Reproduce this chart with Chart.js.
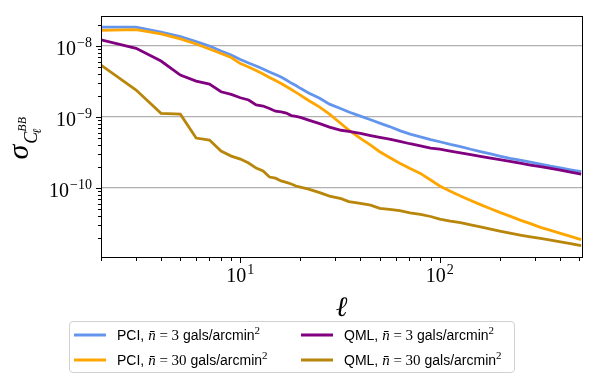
<!DOCTYPE html>
<html lang="en">
<head>
<meta charset="UTF-8" />
<title>sigma C_l^BB vs ell</title>
<script src="https://cdn.jsdelivr.net/npm/chart.js@4.4.1/dist/chart.umd.min.js"></script>
<style>
  html, body { margin: 0; padding: 0; background: #fff; }
  #wrap { position: relative; width: 598px; height: 381px; }
  #legend {
    position: absolute; left: 69px; top: 321px; width: 446px; height: 52px;
    box-sizing: border-box; border: 1px solid #d0d0d0; border-radius: 4px;
    font-family: 'Liberation Sans', sans-serif; font-size: 14px; color: #000;
  }
  .item { position: absolute; display: flex; align-items: center; white-space: nowrap; transform: translateY(-50%); }
  .swatch { width: 32px; height: 3px; margin-right: 11px; flex: none; }
  .m { font-family: 'Liberation Serif', serif; font-size: 15px; }
  .m i { font-style: italic; }
  sup { font-family: 'Liberation Serif', serif; font-size: 11px; line-height: 0; vertical-align: 6px; }
</style>
</head>
<body>
<div id="wrap">
  <canvas id="chart" width="598" height="381"></canvas>
  <div id="legend"></div>
</div>
<script>
// multipoles (shared by all curves)
const ells = [2, 3, 4, 5, 6, 7, 8, 9, 10, 11, 12, 13, 14, 15, 16, 17, 18, 19, 20,
  22, 25, 28, 32, 35, 40, 45, 50, 56, 63, 71, 80, 90, 100, 113, 127, 143, 160,
  180, 200, 225, 253, 285, 320, 360, 403, 453, 512]

// sigma of C_ell^BB
const pci3 = [1.85e-8, 1.85e-8, 1.57e-8, 1.36e-8, 1.16e-8, 1.0e-8, 8.5e-9, 7.47e-9, 6.45e-9,
  5.76e-9, 5.23e-9, 4.74e-9, 4.30e-9, 3.97e-9, 3.66e-9, 3.32e-9, 3.01e-9, 2.78e-9, 2.54e-9,
  2.19e-9, 1.84e-9, 1.52e-9, 1.31e-9, 1.18e-9, 1.03e-9, 9.16e-10, 8.23e-10, 7.35e-10, 6.45e-10,
  5.76e-10, 5.26e-10, 4.82e-10, 4.49e-10, 4.12e-10, 3.84e-10, 3.52e-10, 3.27e-10,
  3.03e-10, 2.82e-10, 2.63e-10, 2.48e-10, 2.32e-10, 2.18e-10, 2.04e-10, 1.93e-10, 1.81e-10, 1.70e-10]
const pci30 = [1.66e-8, 1.70e-8, 1.48e-8, 1.26e-8, 1.07e-8, 9.07e-9, 7.84e-9, 6.89e-9, 5.67e-9,
  5.06e-9, 4.52e-9, 4.03e-9, 3.60e-9, 3.27e-9, 2.96e-9, 2.69e-9, 2.44e-9, 2.23e-9, 2.04e-9,
  1.71e-9, 1.38e-9, 1.10e-9, 8.04e-10, 6.56e-10, 5.01e-10, 4.03e-10, 3.25e-10, 2.69e-10, 2.23e-10,
  1.89e-10, 1.61e-10, 1.30e-10, 1.07e-10, 8.99e-11, 7.72e-11, 6.67e-11, 5.85e-11,
  5.11e-11, 4.55e-11, 4.03e-11, 3.54e-11, 3.16e-11, 2.80e-11, 2.54e-11, 2.30e-11, 2.09e-11, 1.88e-11]
const qml3 = [1.22e-8, 9.28e-9, 6.15e-9, 3.90e-9, 3.21e-9, 2.92e-9, 2.27e-9, 2.09e-9, 1.87e-9,
  1.74e-9, 1.48e-9, 1.43e-9, 1.32e-9, 1.21e-9, 1.18e-9, 1.14e-9, 1.05e-9, 1.02e-9, 9.90e-10,
  9.07e-10, 8.10e-10, 7.23e-10, 6.52e-10, 6.29e-10, 5.89e-10, 5.49e-10, 5.18e-10, 4.90e-10, 4.55e-10,
  4.21e-10, 3.94e-10, 3.66e-10, 3.54e-10, 3.32e-10, 3.14e-10, 2.96e-10, 2.80e-10,
  2.65e-10, 2.52e-10, 2.38e-10, 2.24e-10, 2.11e-10, 2.00e-10, 1.89e-10, 1.79e-10, 1.68e-10, 1.57e-10]
const qml30 = [5.40e-9, 2.40e-9, 1.13e-9, 1.10e-9, 5.06e-10, 4.74e-10, 3.32e-10, 2.82e-10, 2.56e-10,
  2.25e-10, 1.91e-10, 1.74e-10, 1.43e-10, 1.38e-10, 1.26e-10, 1.20e-10, 1.14e-10, 1.07e-10, 1.03e-10,
  9.68e-11, 8.64e-11, 7.72e-11, 7.11e-11, 6.46e-11, 6.09e-11, 5.76e-11, 5.18e-11, 5.02e-11, 4.80e-11,
  4.48e-11, 4.25e-11, 3.98e-11, 3.66e-11, 3.43e-11, 3.25e-11, 3.04e-11, 2.85e-11,
  2.65e-11, 2.48e-11, 2.32e-11, 2.18e-11, 2.06e-11, 1.96e-11, 1.85e-11, 1.75e-11, 1.65e-11, 1.55e-11]

const methods = ['PCI', 'PCI', 'QML', 'QML']
const densities = ['3', '30', '3', '30']
const colors = ['#6495ED', '#FFA500', '#800080', '#B8860B']

// axis ranges and labelled ticks
const xRange = [2, 517]
const yRange = [1.07e-11, 2.65e-8]
const xTicks = [10, 100]
const xTickLabels = ['10^1', '10^2']
const yTicks = [1e-10, 1e-9, 1e-8]
const yTickLabels = ['10^−10', '10^−9', '10^−8']

const seriesValues = [pci3, pci30, qml3, qml30]
const serif = "'Liberation Serif', 'DejaVu Serif', serif"

function isDecade(v) {
  const e = Math.log10(v)
  return Math.abs(e - Math.round(e)) < 1e-6
}

// log tick values (1..9 x 10^e) that fall inside [lo, hi]
function logTicks(lo, hi) {
  const out = []
  for (let e = Math.floor(Math.log10(lo)); e <= Math.ceil(Math.log10(hi)); e++) {
    for (let m = 1; m <= 9; m++) {
      const v = m * Math.pow(10, e)
      if (v >= lo * 0.9999 && v <= hi * 1.0001) out.push({ v, major: m === 1 })
    }
  }
  return out
}

function drawPow(ctx, text, x, baseY, align) {
  const [base, exp] = text.split('^')
  ctx.font = `20px ${serif}`
  const wb = ctx.measureText(base).width
  ctx.font = `14px ${serif}`
  const we = ctx.measureText(exp).width
  const total = wb + we + 1
  const left = align === 'right' ? x - total : x - total / 2
  ctx.textAlign = 'left'
  ctx.textBaseline = 'alphabetic'
  ctx.font = `20px ${serif}`
  ctx.fillText(base, left, baseY)
  ctx.font = `14px ${serif}`
  ctx.fillText(exp, left + wb + 1, baseY - 8)
}

const axisDecor = {
  id: 'axisDecor',
  afterDraw(chart) {
    const { ctx, chartArea: a, scales: { x, y } } = chart
    const L = Math.round(a.left), R = Math.round(a.right)
    const T = Math.round(a.top), B = Math.round(a.bottom)
    ctx.save()
    ctx.fillStyle = '#000'

    // tick marks, pointing out of the frame
    logTicks(yRange[0], yRange[1]).forEach(t => {
      const py = Math.round(y.getPixelForValue(t.v))
      const len = t.major ? 5 : 3
      ctx.fillRect(L - len, py, len, 1)
    })
    logTicks(xRange[0], xRange[1]).forEach(t => {
      const px = Math.round(x.getPixelForValue(t.v))
      const len = t.major ? 5 : 3
      ctx.fillRect(px, B + 1, 1, len)
    })

    // frame
    ctx.fillRect(L, T, R - L + 1, 1)
    ctx.fillRect(L, B, R - L + 1, 1)
    ctx.fillRect(L, T, 1, B - T + 1)
    ctx.fillRect(R, T, 1, B - T + 1)

    // tick labels
    yTicks.forEach((v, i) => drawPow(ctx, yTickLabels[i], L - 9, y.getPixelForValue(v) + 9, 'right'))
    xTicks.forEach((v, i) => drawPow(ctx, xTickLabels[i], x.getPixelForValue(v), B + 25, 'center'))

    // x title
    ctx.font = `italic 28px ${serif}`
    ctx.textAlign = 'center'
    ctx.fillText('ℓ', (L + R) / 2, B + 59)

    // y title: sigma_{C_l^{BB}}
    ctx.translate(28, (T + B) / 2 + 23)
    ctx.rotate(-Math.PI / 2)
    ctx.textAlign = 'left'
    ctx.font = `italic 30px ${serif}`
    ctx.fillText('σ', 0, 0)
    const ws = ctx.measureText('σ').width
    ctx.font = `italic 18px ${serif}`
    ctx.fillText('C', ws + 1, 9)
    const wc = ctx.measureText('C').width
    ctx.font = `italic 12px ${serif}`
    ctx.fillText('BB', ws + wc + 1, -2)
    ctx.fillText('ℓ', ws + wc - 1, 13)
    ctx.restore()
  }
}

new Chart(document.getElementById('chart'), {
  type: 'line',
  data: {
    datasets: seriesValues.map((vals, i) => ({
      label: `${methods[i]}, n̄ = ${densities[i]} gals/arcmin²`,
      data: ells.map((l, k) => ({ x: l, y: vals[k] })),
      borderColor: colors[i],
      backgroundColor: colors[i],
      borderWidth: 2.8,
      pointRadius: 0,
      tension: 0,
      order: 4 - i,
    })),
  },
  options: {
    responsive: false,
    animation: false,
    events: [],
    layout: { padding: { left: 101, right: 16, top: 16, bottom: 124 } },
    plugins: { legend: { display: false }, tooltip: { enabled: false } },
    scales: {
      x: {
        type: 'logarithmic', min: xRange[0], max: xRange[1],
        ticks: { display: false },
        grid: { display: false, drawTicks: false },
        border: { display: false },
      },
      y: {
        type: 'logarithmic', min: yRange[0], max: yRange[1],
        ticks: { display: false },
        grid: {
          drawTicks: false,
          lineWidth: 1.2,
          color: (c) => (c.tick && isDecade(c.tick.value) ? '#b0b0b0' : 'rgba(0,0,0,0)'),
        },
        border: { display: false },
      },
    },
  },
  plugins: [axisDecor],
})

// legend: 2 columns, column-major like the original
const legend = document.getElementById('legend')
const slots = [[4, 13], [4, 38], [231, 13], [231, 38]]
seriesValues.forEach((_, i) => {
  const el = document.createElement('div')
  el.className = 'item'
  el.style.left = slots[i][0] + 'px'
  el.style.top = slots[i][1] + 'px'
  el.innerHTML = `<span class="swatch" style="background:${colors[i]}"></span>` +
    `<span>${methods[i]},&nbsp;<span class="m"><i>n̄</i> = ${densities[i]}</span>&nbsp;gals/arcmin<sup>2</sup></span>`
  legend.appendChild(el)
})
</script>
</body>
</html>
